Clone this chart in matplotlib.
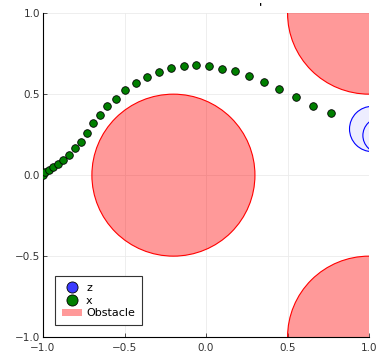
import matplotlib.pyplot as plt
from matplotlib.patches import Circle, Patch
from matplotlib.lines import Line2D

# trajectory x (green points)
x_pos = [-1.0, -0.986, -0.963, -0.939, -0.908, -0.876, -0.840, -0.804, -0.769, -0.732,
         -0.695, -0.653, -0.606, -0.550, -0.495, -0.431, -0.362, -0.288, -0.213, -0.137,
         -0.060, 0.017, 0.096, 0.178, 0.266, 0.356, 0.450, 0.550, 0.656, 0.769]
y_pos = [0.0, 0.020, 0.034, 0.048, 0.067, 0.092, 0.127, 0.167, 0.207, 0.262,
         0.320, 0.373, 0.424, 0.472, 0.524, 0.570, 0.605, 0.638, 0.661, 0.673,
         0.679, 0.673, 0.658, 0.640, 0.613, 0.576, 0.531, 0.481, 0.429, 0.382]

# obstacles: centre x, centre y, radius
obs_x = [-0.2, 1.0, 1.0]
obs_y = [0.0, 1.0, -1.0]
obs_r = [0.5, 0.5, 0.5]

# z regions (blue circles)
z_x = [1.02, 1.07]
z_y = [0.285, 0.245]
z_r = [0.14, 0.108]

fig = plt.figure(figsize=(3.77, 3.56), dpi=100)
ax = fig.add_axes([0.114, 0.053, 0.865, 0.910])

for cx, cy, r in zip(obs_x, obs_y, obs_r):
    ax.add_patch(Circle((cx, cy), r, facecolor=(1, 0, 0, 0.4), edgecolor='red', linewidth=0.8))

for cx, cy, r in zip(z_x, z_y, z_r):
    ax.add_patch(Circle((cx, cy), r, facecolor=(0.93, 0.93, 1.0), edgecolor='blue', linewidth=0.8))

ax.scatter(x_pos, y_pos, s=30, c='#007f00', edgecolors='black', linewidths=0.6, zorder=3)

ax.set_xlim(-1, 1)
ax.set_ylim(-1, 1)
ax.set_xticks([-1.0, -0.5, 0.0, 0.5, 1.0])
ax.set_yticks([-1.0, -0.5, 0.0, 0.5, 1.0])
ax.grid(True, color='#ebebeb', linewidth=0.6)
ax.set_axisbelow(True)
ax.spines['top'].set_visible(False)
ax.spines['right'].set_visible(False)
ax.spines['left'].set_linewidth(0.8)
ax.spines['bottom'].set_linewidth(0.8)
ax.tick_params(direction='in', length=3, width=0.6, labelsize=7.5, colors='#333333', pad=2)
ax.tick_params(axis='x', pad=4)

handles = [
    Line2D([], [], marker='o', linestyle='none', markersize=8, markerfacecolor='#3b3bff',
           markeredgecolor='black', markeredgewidth=0.6, label='z'),
    Line2D([], [], marker='o', linestyle='none', markersize=8, markerfacecolor='#007f00',
           markeredgecolor='black', markeredgewidth=0.6, label='x'),
    Patch(facecolor=(1, 0, 0, 0.4), edgecolor='none', label='Obstacle'),
]
leg = ax.legend(handles=handles, loc='lower left', bbox_to_anchor=(0.02, 0.02), fontsize=8,
                fancybox=False, framealpha=1, edgecolor='#333333', handlelength=1.8,
                handletextpad=0.4, borderpad=0.6, labelspacing=0.25)
leg.get_frame().set_linewidth(0.8)

fig.text(261 / 377, 1 - 7 / 356, "'", fontsize=8, ha='center', va='center', fontweight='bold')

fig.savefig('out.png', dpi=100)
